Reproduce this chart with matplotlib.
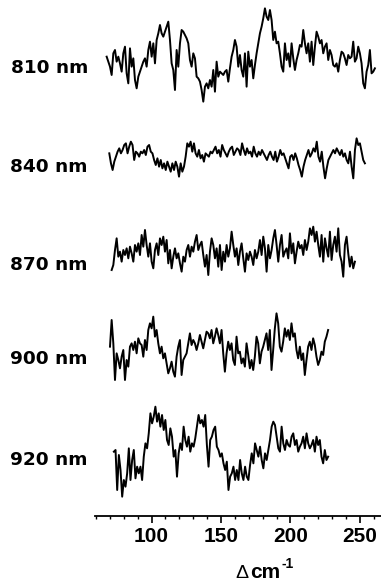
import numpy as np
import matplotlib.pyplot as plt
from matplotlib.ticker import MultipleLocator

plt.rcParams['font.family'] = 'Liberation Sans'
plt.rcParams['font.weight'] = 'bold'

# Resonance Raman-like traces, intensity in arbitrary units (read downwards, so negated on plot)
labels = ['810 nm', '840 nm', '870 nm', '900 nm', '920 nm']
x_ranges = [(67.6, 260.9), (69.5, 253.7), (71.2, 246.5), (70.0, 227.2), (72.8, 227.2)]

i810 = [170, 185, 200, 225, 160, 150, 185, 170, 190, 215, 160, 140, 220, 250, 145, 200, 175, 240, 265, 230,
        215, 200, 185, 175, 200, 150, 125, 170, 130, 190, 120, 100, 75, 100, 110, 95, 80, 65, 120, 190,
        210, 270, 150, 200, 130, 90, 95, 105, 115, 130, 180, 200, 160, 175, 230, 235, 245, 270, 305, 260,
        250, 265, 240, 260, 210, 275, 185, 230, 215, 220, 225, 215, 210, 245, 205, 170, 150, 120, 140, 200,
        165, 210, 230, 160, 260, 155, 200, 180, 235, 195, 160, 130, 100, 80, 55, 25, 50, 60, 30, 60,
        120, 95, 130, 125, 160, 200, 215, 130, 180, 160, 200, 130, 175, 210, 180, 160, 135, 140, 90, 130,
        160, 130, 185, 125, 195, 140, 95, 110, 130, 120, 160, 140, 130, 180, 150, 165, 195, 200, 190, 215,
        180, 155, 160, 175, 195, 165, 175, 170, 125, 185, 175, 140, 160, 190, 250, 265, 215, 195, 150, 220,
        215, 205]

i840 = [100, 130, 150, 125, 110, 95, 85, 100, 90, 75, 70, 100, 80, 65, 75, 120, 95, 100, 110, 95,
        100, 90, 105, 80, 75, 95, 100, 120, 135, 115, 140, 120, 145, 130, 150, 125, 140, 155, 130, 150,
        125, 140, 170, 130, 155, 140, 110, 70, 80, 65, 95, 70, 100, 110, 90, 115, 105, 125, 100, 105,
        110, 95, 100, 90, 80, 100, 90, 110, 75, 90, 100, 110, 95, 85, 80, 105, 95, 85, 90, 105,
        70, 90, 105, 85, 100, 95, 110, 80, 100, 110, 95, 105, 90, 100, 110, 120, 105, 95, 110, 120,
        95, 125, 110, 90, 105, 100, 115, 130, 145, 110, 105, 120, 100, 115, 135, 150, 170, 140, 120, 105,
        90, 110, 100, 85, 95, 65, 110, 125, 95, 140, 175, 145, 120, 110, 100, 90, 100, 85, 95, 105,
        90, 110, 100, 120, 130, 95, 140, 175, 90, 55, 75, 70, 95, 120, 130]

i870 = [135, 120, 75, 40, 95, 80, 110, 75, 90, 70, 100, 65, 85, 110, 60, 80, 55, 90, 30, 65,
        15, 60, 95, 55, 110, 130, 75, 55, 90, 40, 60, 35, 80, 45, 115, 75, 130, 95, 70, 100,
        85, 115, 140, 95, 110, 75, 60, 95, 65, 80, 50, 30, 75, 60, 50, 90, 125, 90, 150, 80,
        40, 60, 100, 70, 125, 60, 135, 80, 110, 60, 95, 70, 20, 60, 95, 70, 120, 80, 55, 100,
        140, 85, 105, 80, 95, 120, 75, 100, 80, 45, 90, 35, 70, 140, 60, 100, 75, 40, 15, 60,
        110, 60, 30, 95, 80, 70, 100, 25, 85, 55, 115, 80, 50, 70, 60, 90, 45, 75, 50, 10,
        30, 5, 50, 20, 60, 95, 30, 110, 40, 70, 95, 20, 105, 60, 35, 80, 10, 90, 110, 155,
        60, 35, 85, 125, 95, 130, 110]

i900 = [110, 30, 100, 210, 130, 150, 175, 140, 120, 210, 150, 170, 110, 100, 120, 95, 130, 85, 100, 105,
        140, 90, 120, 60, 40, 55, 20, 80, 60, 100, 130, 110, 145, 130, 160, 190, 175, 155, 185, 200,
        140, 110, 90, 195, 150, 140, 130, 100, 70, 105, 90, 100, 120, 100, 75, 95, 115, 90, 65, 70,
        85, 60, 100, 80, 55, 75, 100, 60, 130, 185, 130, 95, 120, 100, 150, 165, 80, 130, 125, 160,
        145, 170, 100, 135, 175, 150, 180, 140, 80, 100, 160, 125, 110, 90, 70, 120, 60, 180, 120, 55,
        10, 40, 110, 125, 95, 55, 80, 60, 90, 40, 80, 70, 120, 145, 110, 150, 130, 195, 150, 110,
        95, 120, 85, 105, 140, 165, 150, 125, 135, 95, 80, 60]

i920 = [185, 180, 300, 195, 240, 320, 270, 290, 250, 175, 270, 210, 180, 265, 230, 250, 230, 270, 200, 160,
        175, 130, 70, 100, 80, 50, 95, 70, 110, 75, 120, 90, 150, 165, 115, 140, 200, 180, 260, 190,
        160, 180, 110, 150, 170, 140, 185, 160, 170, 145, 110, 75, 100, 90, 110, 75, 165, 230, 150, 140,
        120, 110, 170, 180, 200, 190, 220, 240, 215, 300, 260, 250, 230, 270, 240, 270, 210, 250, 270, 230,
        260, 270, 225, 190, 220, 160, 180, 200, 170, 210, 235, 190, 210, 180, 150, 110, 95, 105, 140, 175,
        185, 110, 160, 180, 150, 165, 170, 140, 130, 165, 150, 185, 170, 160, 140, 175, 130, 160, 175, 165,
        150, 185, 140, 165, 150, 200, 220, 180, 210, 200]

intensities = [i810, i840, i870, i900, i920]

W, H = 381, 587
axis_y = 515.7
baselines = [0, 120, 225, 310, 390]
label_base = [73, 172, 270, 364, 465]

fig = plt.figure(figsize=(W / 100, H / 100), dpi=100)
ax = fig.add_axes([95 / W, (H - axis_y) / H, 286 / W, axis_y / H])
ax.set_xlim(59.2, 265.3)
ax.set_ylim(0, axis_y)

for (x0, x1), vals, b in zip(x_ranges, intensities, baselines):
    vals = np.array(vals, dtype=float)
    x = np.linspace(x0, x1, len(vals))
    ax.plot(x, (axis_y - b) - vals / 3, color='black', lw=1.4)

for lab, ly in zip(labels, label_base):
    fig.text(88 / W, 1 - ly / H, lab, ha='right', va='baseline',
             fontsize=13.3, fontweight='bold', family='DejaVu Sans')

for s in ['top', 'right', 'left']:
    ax.spines[s].set_visible(False)
ax.spines['bottom'].set_linewidth(1.3)
ax.set_yticks([])
ax.xaxis.set_major_locator(MultipleLocator(50))
ax.xaxis.set_minor_locator(MultipleLocator(10))
ax.tick_params(axis='x', which='major', length=5, width=1.2, pad=3,
               labelsize=15, direction='out')
ax.tick_params(axis='x', which='minor', length=2.5, width=1.0, direction='out')

fig.text(235 / W, 1 - 578 / H, 'Δ', ha='left', va='baseline', fontsize=14,
         fontweight='normal')
fig.text(250 / W, 1 - 578 / H, 'cm', ha='left', va='baseline', fontsize=15,
         fontweight='bold')
fig.text(281 / W, 1 - 568 / H, '-1', ha='left', va='baseline', fontsize=10,
         fontweight='bold')

fig.savefig('out.png', dpi=100)
